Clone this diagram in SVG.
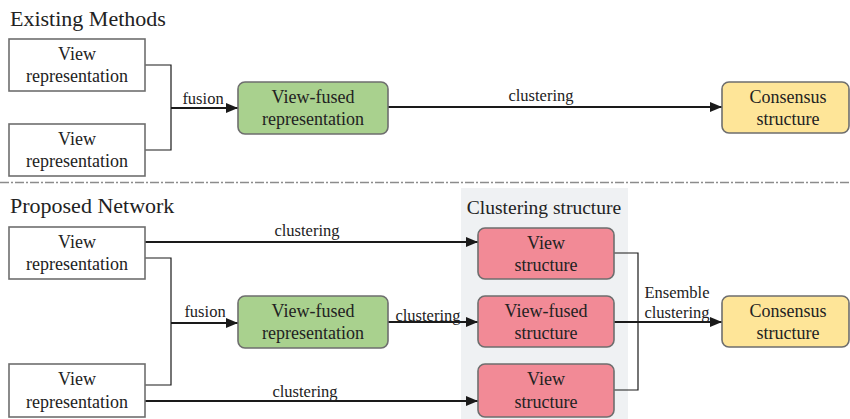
<svg xmlns="http://www.w3.org/2000/svg" width="850" height="419" viewBox="0 0 850 419" font-family="'Liberation Serif', 'Times New Roman', serif">
<defs>
<marker id="ah" viewBox="0 0 12 10" refX="12" refY="5" markerWidth="12" markerHeight="10" markerUnits="userSpaceOnUse" orient="auto">
<path d="M0,0 L12,5 L0,10 z" fill="#1a1a1a"/>
</marker>
<style>
text{font-family:"Liberation Serif","Times New Roman",serif;fill:#222;}
.t{font-family:"Liberation Serif",serif;font-size:18px;text-anchor:middle;}
.h{font-family:"Liberation Serif",serif;font-size:22px;}
.l{font-family:"Liberation Serif",serif;font-size:16.5px;text-anchor:middle;}
.w{fill:#fff;stroke:#6e6e6e;stroke-width:1.6;}
.g{fill:#a9d18e;stroke:#6e6e6e;stroke-width:1.6;}
.p{fill:#f28a96;stroke:#6e6e6e;stroke-width:1.6;}
.y{fill:#fee598;stroke:#6e6e6e;stroke-width:1.6;}
.c{fill:none;stroke:#1a1a1a;stroke-width:1.2;}
.a{fill:none;stroke:#1a1a1a;stroke-width:2;marker-end:url(#ah);}
</style>
</defs>
<rect width="850" height="419" fill="#fff"/>
<rect id="cluster-bg" x="461" y="188" width="167" height="231" fill="#eff1f3"/>
<line x1="0" y1="182.5" x2="850" y2="182.5" stroke="#8c8c8c" stroke-width="1.5" stroke-dasharray="9 2 2 2"/>
<text class="h" x="10" y="26">Existing Methods</text>
<text class="h" x="10" y="213">Proposed Network</text>
<text x="544" y="214" style="font-family:'Liberation Serif',serif;font-size:19.5px;text-anchor:middle">Clustering structure</text>

<g id="connectors">
<path class="c" d="M145,65 H171 V150 H145"/>
<path class="a" d="M171,108 H238"/>
<path class="a" d="M388,107 H722"/>
<path class="a" d="M145,242 H478"/>
<path class="c" d="M145,258 H171 V385 H145"/>
<path class="a" d="M171,323 H238"/>
<path class="a" d="M388,322 H478"/>
<path class="a" d="M145,401 H478"/>
<path class="c" d="M614,253 H638 V390 H614"/>
<path class="a" d="M614,322 H722"/>
<text class="l" x="203" y="104">fusion</text>
<text class="l" x="541" y="101">clustering</text>
<text class="l" x="307" y="236">clustering</text>
<text class="l" x="205" y="317">fusion</text>
<text class="l" x="428" y="321">clustering</text>
<text class="l" x="305" y="397">clustering</text>
<text class="l" x="677" y="298">Ensemble</text>
<text class="l" x="677" y="318">clustering</text>
</g>

<g id="view1"><rect class="w" x="9" y="39" width="136" height="52"/><text class="t" x="77" y="60">View</text><text class="t" x="77" y="82">representation</text></g>
<g id="view2"><rect class="w" x="9" y="124" width="136" height="52"/><text class="t" x="77" y="145">View</text><text class="t" x="77" y="167">representation</text></g>
<g id="fused1"><rect class="g" x="238" y="82" width="150" height="52" rx="7"/><text class="t" x="313" y="103">View-fused</text><text class="t" x="313" y="125">representation</text></g>
<g id="consensus1"><rect class="y" x="722" y="82" width="127" height="51" rx="7"/><text class="t" x="788" y="103">Consensus</text><text class="t" x="788" y="125">structure</text></g>

<g id="view3"><rect class="w" x="9" y="227" width="136" height="52"/><text class="t" x="77" y="248">View</text><text class="t" x="77" y="270">representation</text></g>
<g id="view4"><rect class="w" x="9" y="364" width="136" height="53"/><text class="t" x="77" y="385">View</text><text class="t" x="77" y="408">representation</text></g>
<g id="fused2"><rect class="g" x="238" y="296" width="150" height="52" rx="7"/><text class="t" x="313" y="317">View-fused</text><text class="t" x="313" y="339">representation</text></g>
<g id="vstruct1"><rect class="p" x="478" y="228" width="136" height="51" rx="7"/><text class="t" x="546" y="249">View</text><text class="t" x="546" y="271">structure</text></g>
<g id="fstruct"><rect class="p" x="478" y="296" width="136" height="51" rx="7"/><text class="t" x="546" y="317">View-fused</text><text class="t" x="546" y="339">structure</text></g>
<g id="vstruct2"><rect class="p" x="478" y="364" width="136" height="53" rx="7"/><text class="t" x="546" y="385">View</text><text class="t" x="546" y="408">structure</text></g>
<g id="consensus2"><rect class="y" x="722" y="296" width="127" height="51" rx="7"/><text class="t" x="788" y="317">Consensus</text><text class="t" x="788" y="339">structure</text></g>
</svg>
